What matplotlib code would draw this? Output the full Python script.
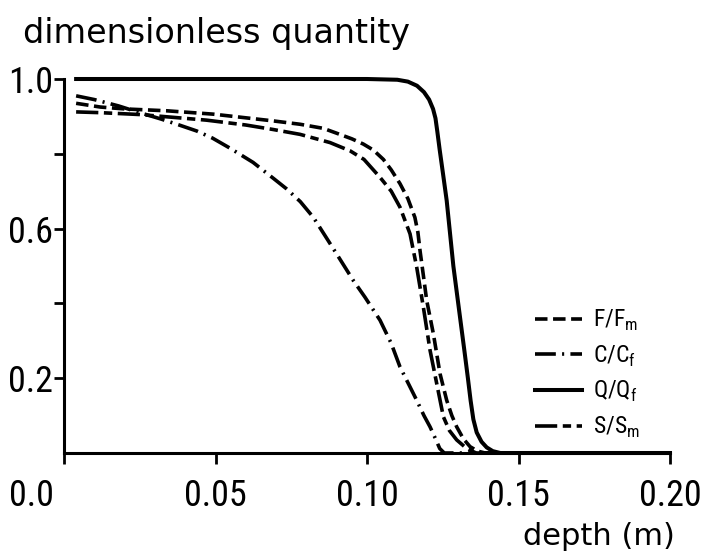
import numpy as np
import matplotlib
matplotlib.use("Agg")
import matplotlib.pyplot as plt
from matplotlib import font_manager as fm
from matplotlib.transforms import ScaledTranslation

# profiles
q_depth = [0.004, 0.05, 0.100, 0.110, 0.1135, 0.1165, 0.1188, 0.1205, 0.1218, 0.1226,
           0.1232, 0.1240, 0.1252, 0.1263, 0.1285, 0.1307, 0.1322, 0.1333, 0.1342,
           0.1351, 0.1362, 0.1378, 0.1395, 0.1415, 0.144, 0.20]
q_val = [1.0, 1.0, 1.0, 0.998, 0.993, 0.982, 0.965, 0.945, 0.92, 0.895,
         0.86, 0.81, 0.74, 0.675, 0.50, 0.363, 0.27, 0.20, 0.14,
         0.09, 0.055, 0.03, 0.015, 0.005, 0.0, 0.0]

c_depth = [0.004, 0.010, 0.018, 0.025, 0.032, 0.038, 0.0438, 0.049, 0.0548, 0.0624,
           0.069, 0.0735, 0.078, 0.0823, 0.086, 0.090, 0.0955, 0.0993, 0.1043, 0.108,
           0.1109, 0.1140, 0.1164, 0.1188, 0.1208, 0.1225, 0.124, 0.1255, 0.20]
c_val = [0.955, 0.945, 0.928, 0.910, 0.893, 0.877, 0.861, 0.842, 0.815, 0.777,
         0.735, 0.706, 0.672, 0.630, 0.583, 0.532, 0.461, 0.417, 0.355, 0.293,
         0.230, 0.180, 0.141, 0.100, 0.070, 0.040, 0.012, 0.0, 0.0]

f_depth = [0.004, 0.012, 0.020, 0.0339, 0.0493, 0.069, 0.0779, 0.0856, 0.0900, 0.0950,
           0.0988, 0.1021, 0.1054, 0.1080, 0.1109, 0.1135, 0.1158, 0.1168, 0.1175, 0.1186,
           0.1197, 0.1219, 0.1241, 0.1263, 0.1280, 0.1296, 0.1318, 0.134, 0.1365, 0.139, 0.20]
f_val = [0.935, 0.925, 0.920, 0.915, 0.906, 0.888, 0.879, 0.868, 0.855, 0.840,
         0.826, 0.810, 0.785, 0.757, 0.720, 0.680, 0.630, 0.590, 0.541, 0.475,
         0.408, 0.319, 0.212, 0.141, 0.100, 0.070, 0.038, 0.017, 0.005, 0.0, 0.0]

s_depth = [0.004, 0.012, 0.025, 0.047, 0.060, 0.069, 0.0779, 0.0878, 0.0944, 0.0990,
           0.1043, 0.1080, 0.1109, 0.1142, 0.1164, 0.1186, 0.1208, 0.1230, 0.1252, 0.1272,
           0.1296, 0.1329, 0.136, 0.20]
s_val = [0.912, 0.910, 0.905, 0.890, 0.877, 0.865, 0.852, 0.830, 0.808, 0.785,
         0.737, 0.700, 0.657, 0.586, 0.497, 0.390, 0.275, 0.186, 0.097, 0.060,
         0.035, 0.012, 0.0, 0.0]

x_ticks = [0.0, 0.05, 0.10, 0.15, 0.20]
x_ticklabels = ["0.0", "0.05", "0.10", "0.15", "0.20"]
y_ticks = [0.2, 0.6, 1.0]
y_ticklabels = ["0.2", "0.6", "1.0"]
y_minor = [0.4, 0.8]

# narrow face for numbers if one is around
names = {f.name for f in fm.fontManager.ttflist}
narrow = "DejaVu Sans"
for cand in ["Liberation Sans Narrow", "DejaVu Sans Condensed", "Roboto Condensed"]:
    if cand in names:
        narrow = cand
        break

plt.rcParams["lines.scale_dashes"] = False
plt.rcParams["mathtext.fontset"] = "custom"
plt.rcParams["mathtext.rm"] = narrow

fig = plt.figure(figsize=(7.01, 5.60), dpi=100)
ax = fig.add_axes([64 / 701, 1 - 453 / 560, (670 - 64) / 701, (453 - 79) / 560])

lw = 2.6
ax.plot(f_depth, f_val, color="black", lw=lw, ls=(0, (9, 4)), clip_on=False,
        label=r"F/F$_\mathrm{m}$")
ax.plot(c_depth, c_val, color="black", lw=lw, ls=(0, (15, 4.5, 1.5, 4.5)), clip_on=False,
        label=r"C/C$_\mathrm{f}$")
ax.plot(q_depth, q_val, color="black", lw=lw + 0.3, ls="-", clip_on=False,
        label=r"Q/Q$_\mathrm{f}$")
ax.plot(s_depth, s_val, color="black", lw=lw, ls=(0, (16, 4, 6, 4)), clip_on=False,
        label=r"S/S$_\mathrm{m}$")

ax.set_xlim(0, 0.20)
ax.set_ylim(0, 1.0)

for side in ["top", "right"]:
    ax.spines[side].set_visible(False)
for side in ["left", "bottom"]:
    ax.spines[side].set_linewidth(2.2)

ax.set_xticks(x_ticks)
ax.set_xticklabels(x_ticklabels, fontfamily=narrow, fontsize=26)
ax.set_yticks(y_ticks)
ax.set_yticklabels(y_ticklabels, fontfamily=narrow, fontsize=26)
ax.set_yticks(y_minor, minor=True)
ax.tick_params(axis="x", direction="out", length=8, width=2, pad=10)
ax.tick_params(axis="y", which="both", direction="out", length=7, width=2, pad=1)

# the 0.0 label sits left of the corner in the original
lab0 = ax.get_xticklabels()[0]
lab0.set_transform(lab0.get_transform() + ScaledTranslation(-0.33, 0, fig.dpi_scale_trans))

fig.text(23 / 701, 1 - 43 / 560, "dimensionless quantity", fontsize=24,
         ha="left", va="baseline")
fig.text(675 / 701, 1 - 545 / 560, "depth (m)", fontsize=22,
         ha="right", va="baseline")

ax.legend(loc="center left", bbox_to_anchor=(535 / 701, 1 - 374 / 560),
          bbox_transform=fig.transFigure, frameon=False, borderpad=0,
          borderaxespad=0, handlelength=2.0, handletextpad=0.47,
          labelspacing=0.44, prop={"family": narrow, "size": 17})

fig.savefig("out.png", dpi=100, facecolor="white")
